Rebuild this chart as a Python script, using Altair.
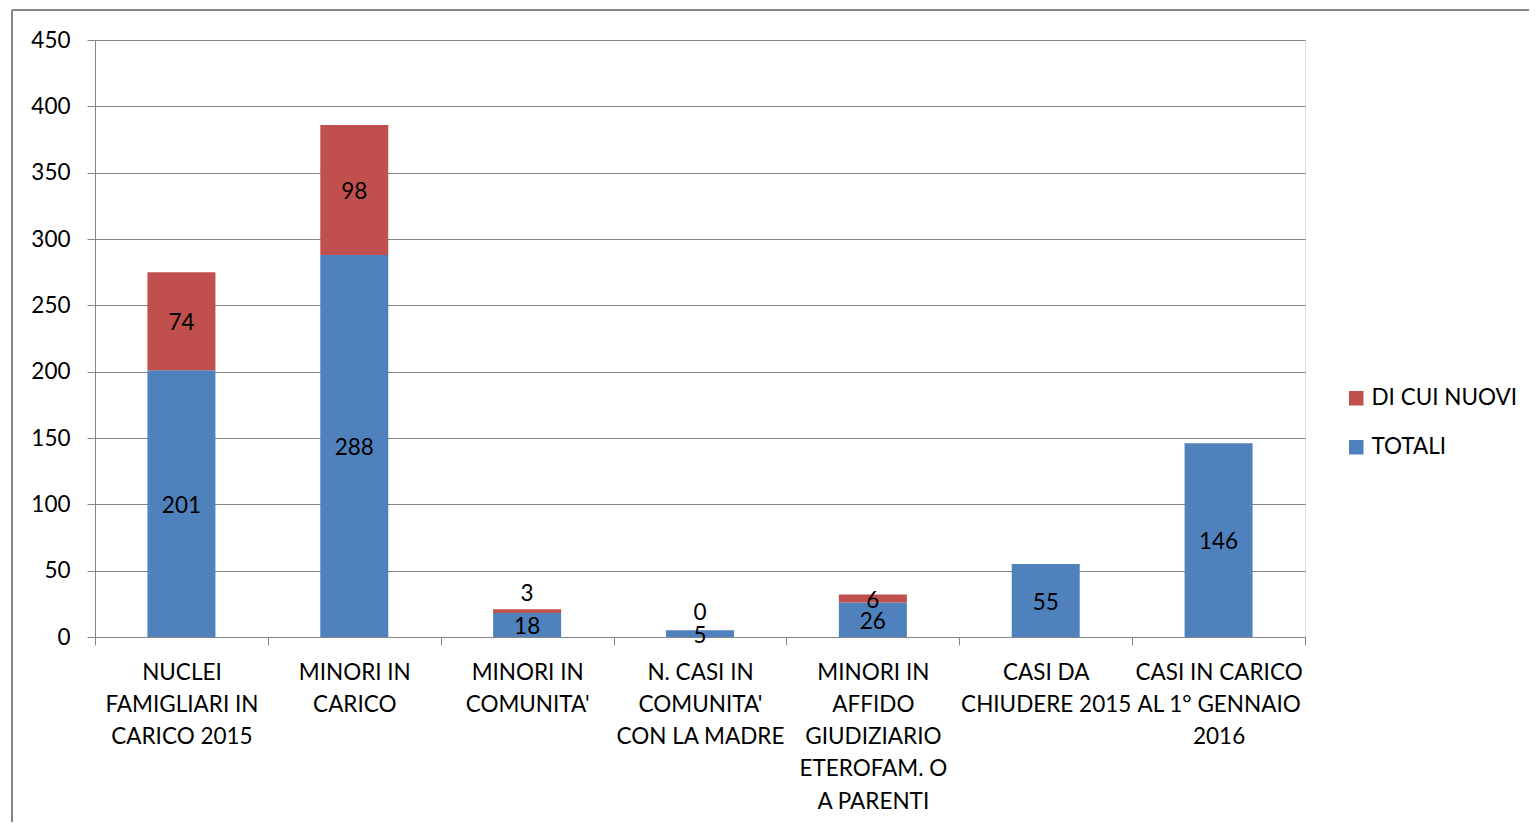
import altair as alt
import pandas as pd

categories = [
    "NUCLEI|FAMIGLIARI IN|CARICO 2015",
    "MINORI IN|CARICO",
    "MINORI IN|COMUNITA'",
    "N. CASI IN|COMUNITA'|CON LA MADRE",
    "MINORI IN|AFFIDO|GIUDIZIARIO|ETEROFAM. O|A PARENTI",
    "CASI DA|CHIUDERE 2015",
    "CASI IN CARICO|AL 1° GENNAIO|2016",
]
totali = [201, 288, 18, 5, 26, 55, 146]
nuovi = [74, 98, 3, 0, 6, None, None]
series_names = ["DI CUI NUOVI", "TOTALI"]
colors = ["#C0504D", "#4F81BD"]

rows = []
for c, t, n in zip(categories, totali, nuovi):
    rows.append({"cat": c, "series": "TOTALI", "value": t, "ord": 0})
    if n is not None:
        rows.append({"cat": c, "series": "DI CUI NUOVI", "value": n, "ord": 1})
df = pd.DataFrame(rows)

FONT = "Lato"
FS = 22.5
GRAY = "#868686"

base = alt.Chart(df).transform_stack(
    stack="value", groupby=["cat"], as_=["v0", "v1"], sort=[{"field": "ord", "order": "ascending"}]
).transform_calculate(mid="(datum.v0 + datum.v1) / 2")

x_enc = alt.X(
    "cat:N",
    sort=categories,
    scale=alt.Scale(paddingInner=0, paddingOuter=0),
    axis=alt.Axis(
        title=None,
        labelAngle=0,
        labelExpr="split(datum.label, '|')",
        labelFont=FONT,
        labelFontSize=FS,
        labelColor="#000000",
        labelLineHeight=32.3,
        labelPadding=16,
        tickBand="extent",
        tickSize=8,
        tickColor=GRAY,
        domainColor=GRAY,
        grid=False,
        labelLimit=300,
    ),
)

y_scale = alt.Scale(domain=[0, 450], nice=False)

bars = base.mark_bar(size=68).encode(
    x=x_enc,
    y=alt.Y(
        "v0:Q",
        scale=y_scale,
        axis=alt.Axis(
            title=None,
            values=list(range(0, 451, 50)),
            labelFont=FONT,
            labelFontSize=FS,
            labelColor="#000000",
            labelPadding=17,
            tickSize=8,
            tickColor=GRAY,
            domainColor=GRAY,
            gridColor=GRAY,
            grid=True,
        ),
    ),
    y2="v1:Q",
    color=alt.Color(
        "series:N",
        scale=alt.Scale(domain=series_names, range=colors),
        legend=alt.Legend(
            title=None,
            orient="none",
            legendX=1250,
            legendY=347,
            symbolType="square",
            symbolSize=210,
            symbolStrokeWidth=0,
            labelFont=FONT,
            labelFontSize=FS,
            labelColor="#000000",
            rowPadding=26,
            labelOffset=4,
        ),
    ),
)

labels = base.mark_text(font=FONT, fontSize=FS, color="#000000", baseline="middle", dy=2).encode(
    x=alt.X("cat:N", sort=categories),
    y=alt.Y("mid:Q", scale=y_scale),
    text="value:Q",
).transform_filter("!(datum.series == 'DI CUI NUOVI' && datum.value <= 3)")

labels_nudged = base.mark_text(font=FONT, fontSize=FS, color="#000000", baseline="middle", dy=-17).encode(
    x=alt.X("cat:N", sort=categories),
    y=alt.Y("mid:Q", scale=y_scale),
    text="value:Q",
).transform_filter("datum.series == 'DI CUI NUOVI' && datum.value <= 3")

frame_top = alt.Chart(df).mark_rule(color=GRAY, strokeWidth=1.5).encode(
    x=alt.value(-83), x2=alt.value(1500), y=alt.value(-30)
)
frame_left = alt.Chart(df).mark_rule(color=GRAY, strokeWidth=1.5).encode(
    x=alt.value(-83), y=alt.value(-30), y2=alt.value(900)
)

chart = alt.layer(bars, labels, labels_nudged, frame_top, frame_left).properties(
    width=1210,
    height=597,
    autosize=alt.AutoSizeParams(type="none"),
    padding={"left": 87, "top": 32, "right": 224, "bottom": 185},
).configure_view(stroke=None).configure(background="white")

chart.save("out.html", embed_options={"renderer": "svg", "actions": False})
